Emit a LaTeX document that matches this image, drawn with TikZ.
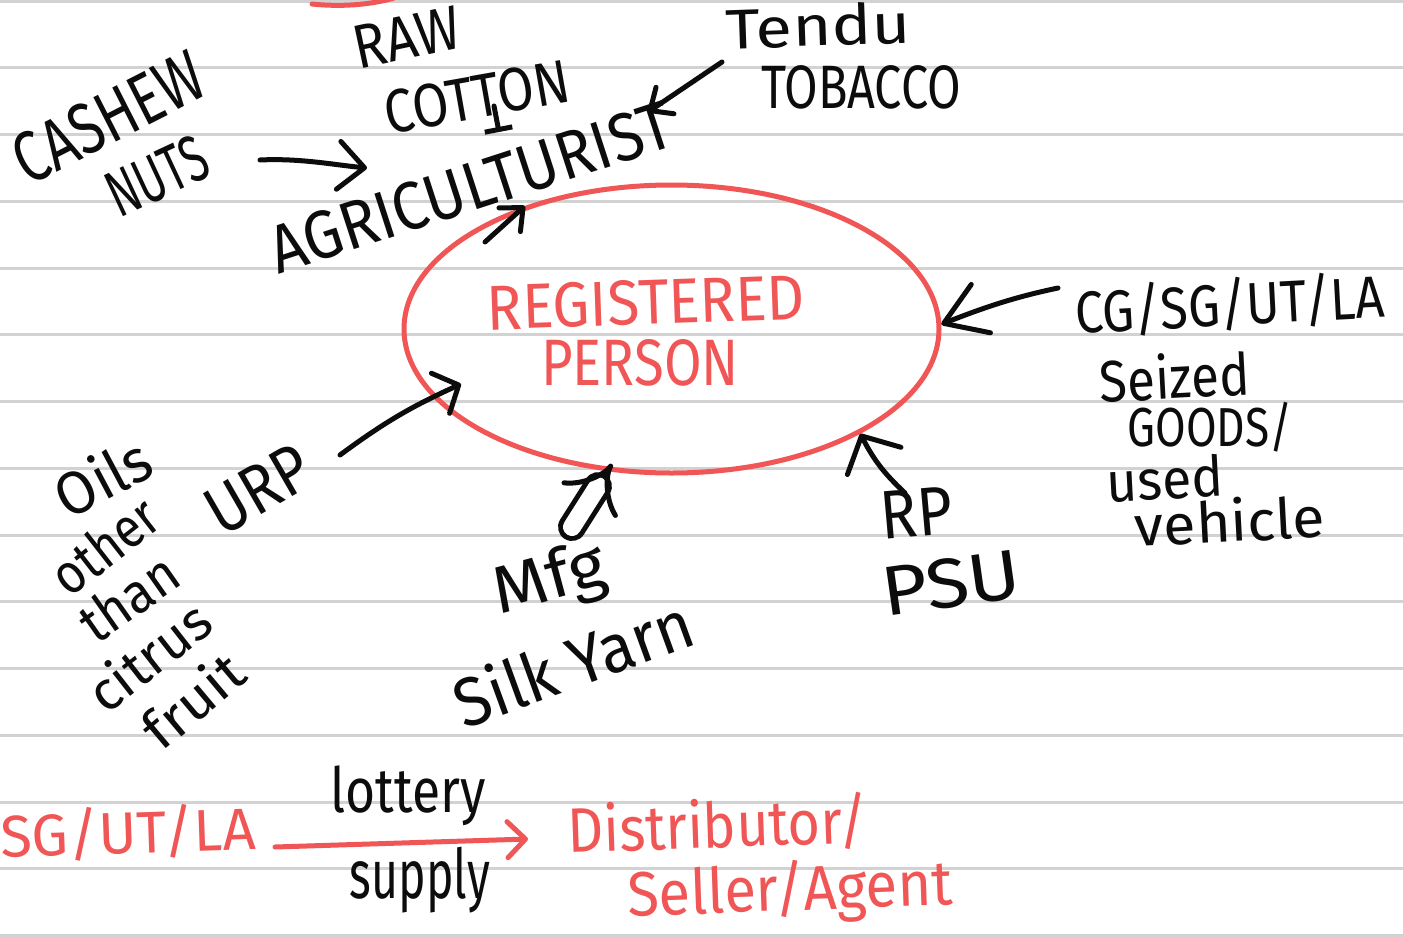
\documentclass[tikz,border=0pt]{standalone}
\usepackage{fontspec}
\setmainfont{Fira Sans}
\usetikzlibrary{arrows.meta,shapes.geometric}
\definecolor{ink}{RGB}{12,12,12}
\definecolor{redink}{RGB}{240,86,86}
\definecolor{ruled}{RGB}{210,210,210}
\newdimen\pxu \pxu=0.5pt
% set a word to a given width and total height (in page pixels)
\newcommand\fitwh[3]{\resizebox*{#1\pxu}{#2\pxu}{\vphantom{Ag}#3}}

\begin{document}
\begin{tikzpicture}[x=0.5pt,y=-0.5pt,
  pen/.style={draw=ink,line width=2.5pt,line cap=round,line join=round},
  redpen/.style={draw=redink,line width=2.5pt,line cap=round,line join=round},
  lbl/.style={inner sep=0pt,text=ink,font=\fontsize{24}{26}\selectfont},
  redlbl/.style={lbl,text=redink},
  barb/.style 2 args={-{Straight Barb[length=#1,width=#2,round]}}
]
\useasboundingbox (0,0) rectangle (1403,937);
\fill[white] (0,0) rectangle (1403,937);

% ruled paper
\foreach \k in {0,...,14}
  \draw[ruled,line width=1.5pt] (0,{1+66.75*\k}) -- (1403,{1+66.75*\k});

% stray stroke at the top edge
\draw[redpen] (312,4) .. controls (340,7) and (370,5) .. (394,-2);

% central ellipse
\node[draw=redink,line width=2.5pt,ellipse,minimum width=267.5pt,
      minimum height=144pt,inner sep=0pt] (reg) at (671.5,329) {};
\node[redlbl,rotate=2] (regA) at (646,309) {\fitwh{318}{58}{REGISTERED}};
\node[redlbl] (regB) at (640,369) {\fitwh{198}{60}{PERSON}};

% top left
\node[lbl,rotate=12] (raw) at (408,44) {\fitwh{108}{56}{RAW}};
\node[lbl,rotate=10] (cotton) at (478,103) {\fitwh{188}{56}{COTTON}};
\node[lbl,rotate=27] (cashew) at (112,124) {\fitwh{205}{66}{CASHEW}};
\node[lbl,rotate=25] (nuts) at (160,182) {\fitwh{105}{60}{NUTS}};
\node[lbl,rotate=18] (agri) at (473,194) {\fitwh{420}{62}{AGRICULTURIST}};
\node[lbl,rotate=2] (tendu) at (818,31) {\fitwh{185}{54}{Tendu}};
\node[lbl] (tobacco) at (861,94) {\fitwh{200}{56}{TOBACCO}};

% right side
\node[lbl,rotate=3] (cg) at (1230,308) {\fitwh{310}{60}{CG/SG/UT/LA}};
\node[lbl,rotate=3] (seized) at (1175,382) {\fitwh{150}{58}{Seized}};
\node[lbl] (goods) at (1210,430) {\fitwh{165}{56}{GOODS/}};
\node[lbl,rotate=3] (used) at (1165,484) {\fitwh{117}{54}{used}};
\node[lbl,rotate=3] (vehicle) at (1230,526) {\fitwh{190}{56}{vehicle}};
\node[lbl,rotate=5] (rp) at (917,520) {\fitwh{72}{62}{RP}};
\node[lbl,rotate=8] (psu) at (952,590) {\fitwh{140}{64}{PSU}};

% bottom left
\node[lbl,rotate=28] (oils) at (105,482) {\fitwh{100}{60}{Oils}};
\node[lbl,rotate=38] (other) at (108,550) {\fitwh{120}{54}{other}};
\node[lbl,rotate=35] (than) at (132,602) {\fitwh{108}{54}{than}};
\node[lbl,rotate=38] (citrus) at (152,660) {\fitwh{140}{54}{citrus}};
\node[lbl,rotate=40] (fruit) at (196,704) {\fitwh{115}{54}{fruit}};
\node[lbl,rotate=30] (urp) at (262,496) {\fitwh{110}{62}{URP}};
\node[lbl,rotate=15] (mfg) at (550,582) {\fitwh{115}{64}{Mfg}};
\node[lbl,rotate=20] (silk) at (575,668) {\fitwh{250}{68}{Silk Yarn}};

% lottery line
\node[redlbl,rotate=2] (sgut) at (128,836) {\fitwh{255}{60}{SG/UT/LA}};
\node[lbl] (lottery) at (408,796) {\fitwh{155}{60}{lottery}};
\node[lbl] (supply) at (420,880) {\fitwh{140}{66}{supply}};
\node[redlbl,rotate=2] (distr) at (718,829) {\fitwh{300}{64}{Distributor/}};
\node[redlbl,rotate=2] (seller) at (790,892) {\fitwh{325}{64}{Seller/Agent}};

% arrow ends
\coordinate (cashtail) at (260,160);
\coordinate (cashtip) at (367,168);
\coordinate (cottail) at (494,106);
\coordinate (cottip) at (499,132);
\coordinate (tendtail) at (722,62);
\coordinate (tendtip) at (648,112);
\coordinate (agritail) at (485,242);
\coordinate (cgtail) at (1058,288);
\coordinate (rptail) at (905,493);
\coordinate (urptail) at (340,455);
\coordinate (urptip) at (461,384);
\coordinate (mfgtail) at (572,527);
\coordinate (mfgtip) at (612,464);
\coordinate (lottail) at (275,847);
\coordinate (lottip) at (528,839);

% connectors
\draw[pen,barb={13pt}{24pt}] (cashtail) .. controls (300,158) and (335,165) .. (cashtip);
\draw[pen,-{Bar[width=14pt]}] (cottail) -- (cottip);
\draw[pen,barb={9pt}{16pt}] (tendtail) -- (tendtip);
\draw[pen,barb={9pt}{16pt}] (agritail) -- (reg.140);
\draw[pen,barb={20pt}{26pt}] (cgtail) .. controls (1020,296) and (990,305) .. (reg.1);
\draw[pen,barb={14pt}{30pt}] (rptail) to[bend left=10] (reg.-29);
\draw[pen,barb={10pt}{22pt}] (urptail) to[bend left=6] (urptip);
\draw[pen,double=white,double distance=9pt,-{Implies}] (mfgtail) -- (mfgtip);
\draw[redpen,barb={9pt}{18pt}] (lottail) -- (lottip);
\end{tikzpicture}
\end{document}
